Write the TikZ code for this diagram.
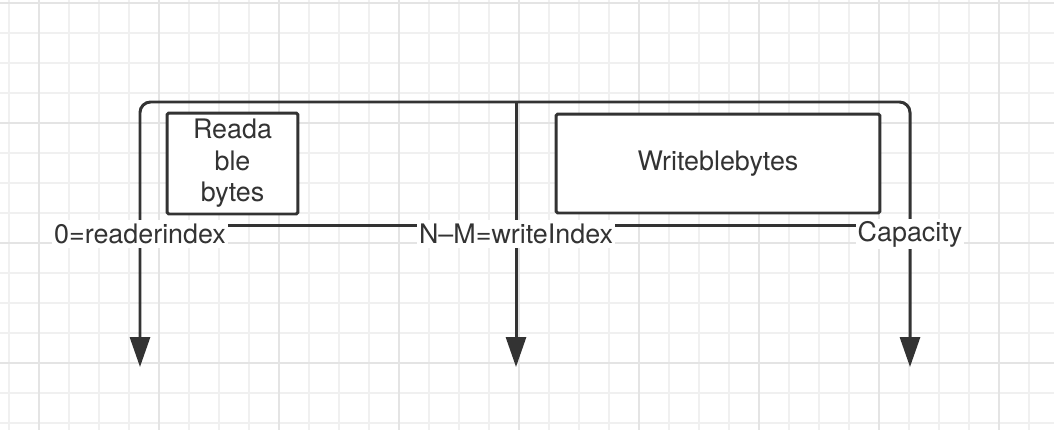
\documentclass[tikz,border=0pt]{standalone}
\usepackage{fontspec}
\setmainfont{TeX Gyre Heros}
\definecolor{ink}{RGB}{51, 51, 51}
\definecolor{gridminor}{RGB}{240, 240, 240}
\definecolor{gridmajor}{RGB}{228, 228, 228}
\usetikzlibrary{arrows.meta, positioning}

\begin{document}
\begin{tikzpicture}[x=0.02cm, y=-0.02cm,
  txt/.style={font=\fontsize{15.3pt}{18pt}\selectfont, text=ink},
  bx/.style={txt, draw=ink, line width=1.7pt, rounded corners=1pt, fill=white, inner sep=0pt, align=center},
  lbl/.style={txt, fill=white, inner sep=1pt, minimum height=0.56cm},
  ln/.style={draw=ink, line width=1.7pt},
  ptr/.style={ln, -{Triangle[length=0.6cm, width=0.4cm]}},
]
  \useasboundingbox (0,0) rectangle (1054,430);
  % Grid
  \foreach \gx in {9,39,...,1039} \draw[gridminor, line width=0.6pt] (\gx,0) -- (\gx,430);
  \foreach \gy in {3,33,...,423} \draw[gridminor, line width=0.6pt] (0,\gy) -- (1054,\gy);
  \foreach \gx in {39,159,...,999} \draw[gridmajor, line width=0.6pt] (\gx,0) -- (\gx,430);
  \foreach \gy in {3,123,...,363} \draw[gridmajor, line width=0.6pt] (0,\gy) -- (1054,\gy);
  % Frame and pointers
  \coordinate (topL) at (140,102);
  \coordinate (topM) at (516,102);
  \coordinate (topR) at (910,102);
  \coordinate (endL) at (140,367);
  \coordinate (endM) at (516,367);
  \coordinate (endR) at (910,367);
  \draw[ln, rounded corners=6, {Triangle[length=0.6cm, width=0.4cm]}-{Triangle[length=0.6cm, width=0.4cm]}]
    (endL) -- (topL) -- (topR) -- (endR);
  \draw[ptr] (topM) -- (endM);
  % Boxes
  \node[bx, minimum width=2.62cm, minimum height=2.02cm] (rd) at (232.5,163.5) {Reada\\ble\\bytes};
  \node[bx, minimum width=6.48cm, minimum height=1.98cm] (wr) at (718,163.5) {Writeblebytes};
  % Index labels
  \draw[ln] (140,225) -- (910,225);
  \node[lbl] (rdr) at (140,234) {0=readerindex};
  \node[lbl] (wrt) at (516,234) {N–M=writeIndex};
  \node[lbl] (cap) at (910,234) {Capacity};
\end{tikzpicture}
\end{document}
